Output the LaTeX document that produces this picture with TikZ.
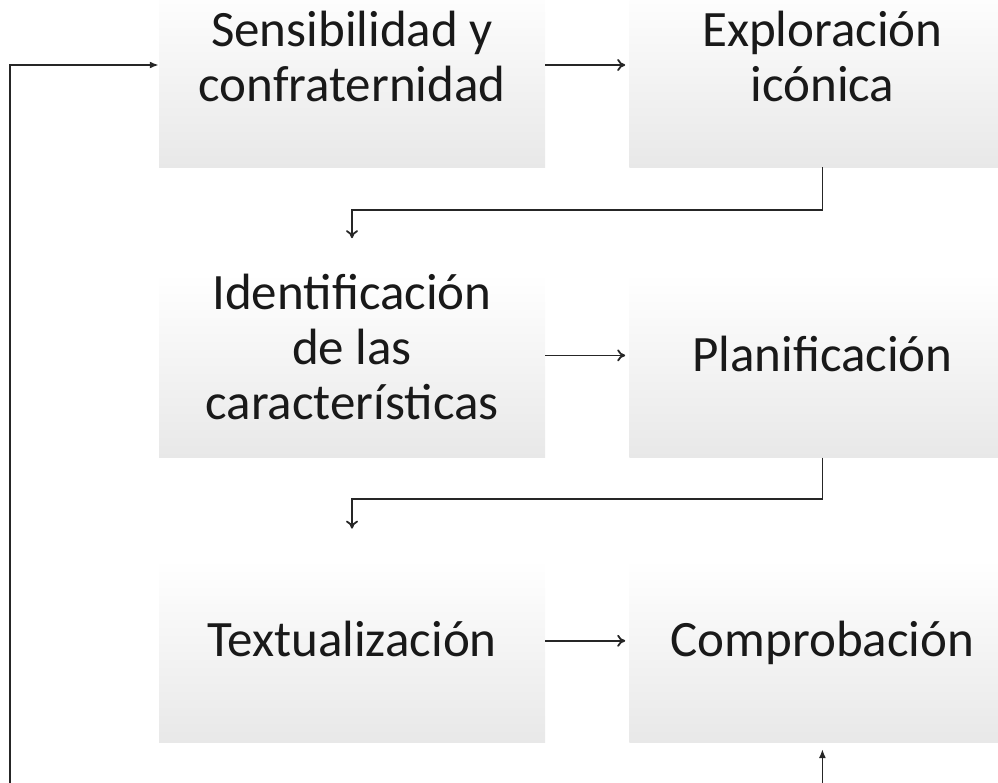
\documentclass[tikz,border=0pt]{standalone}
\usepackage{fontspec}
\setmainfont{Carlito}
\usetikzlibrary{positioning}
\usetikzlibrary{arrows.meta}
\pgfdeclareverticalshading{boxfade}{100bp}{color(0bp)=(black!14); color(45bp)=(black!5); color(70bp)=(white); color(100bp)=(white)}
\tikzset{%
	% Specifications for style of nodes:
	stage/.style = {rectangle, minimum width=386pt, minimum height=204pt, inner sep=0pt, align=center, shading=boxfade, font=\fontsize{51}{55}\selectfont, text=black!90, execute at begin node=\rule{0pt}{48.5pt}, execute at end node=\strut},
	link/.style = {line width=1.8pt, draw=black!85},
	back/.style = {link, -{Latex[length=9pt,width=7pt]}},
}

\begin{document}
\begin{tikzpicture}[x=1pt,y=1pt,>={To[length=8pt,width=12pt]}]
		\useasboundingbox (0,0) rectangle (998,-782);
		\clip (0,0) rectangle (998,-782);
		\node (Sens) [stage] at (352,-65) {Sensibilidad y\\confraternidad};
		\node (Expl) [stage,right =84pt of Sens] {Exploración\\icónica};
		
		\node (Ident) [stage,below =86pt of Sens] {Identificación\\de las\\características};
		\node (Plan) [stage,right =84pt of Ident] {Planificación};
		
		\node (Text) [stage,below =81pt of Ident] {Textualización};
		\node (Comp) [stage,right =84pt of Text] {Comprobación};
		
		\coordinate (fbL) at (10,-790);
		\coordinate (fbR) at (Comp.south |- fbL);
		
		\draw [link,->,shorten >=4pt] (Sens) -- (Expl);
		\draw [link,->,shorten >=4pt] (Ident) -- (Plan);
		\draw [link,->,shorten >=4pt] (Text) -- (Comp);
		
		\draw [link,->] (Expl.south) -- ++(0,-43) -| ([yshift=15pt]Ident.north);
		\draw [link,->] (Plan.south) -- ++(0,-41) -| ([yshift=10pt]Text.north);
		
		\draw [back] (fbL) |- (Sens.west);
		\draw [back,shorten >=6pt] (fbR) -- (Comp.south);
		
     \end{tikzpicture}
\end{document}
